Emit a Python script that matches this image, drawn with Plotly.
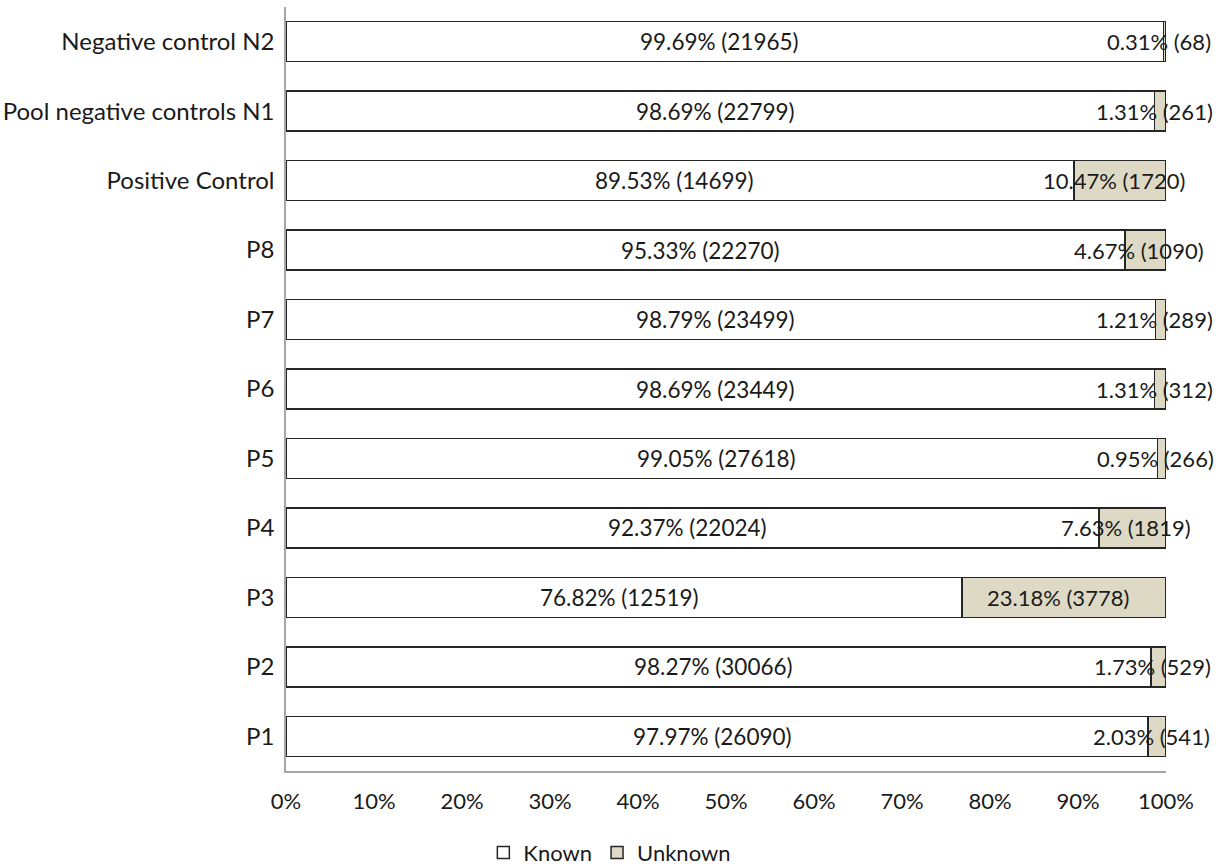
import plotly.graph_objects as go

categories = ["P1", "P2", "P3", "P4", "P5", "P6", "P7", "P8",
              "Positive Control", "Pool negative controls N1", "Negative control N2"]
known_pct = [97.97, 98.27, 76.82, 92.37, 99.05, 98.69, 98.79, 95.33, 89.53, 98.69, 99.69]
known_n = [26090, 30066, 12519, 22024, 27618, 23449, 23499, 22270, 14699, 22799, 21965]
unknown_pct = [2.03, 1.73, 23.18, 7.63, 0.95, 1.31, 1.21, 4.67, 10.47, 1.31, 0.31]
unknown_n = [541, 529, 3778, 1819, 266, 312, 289, 1090, 1720, 261, 68]
x_ticks = [0, 10, 20, 30, 40, 50, 60, 70, 80, 90, 100]

FONT = "Lato"
FS = 22
TXT = "#1a1a1a"
OUT = "#262626"

known_frac = [v / 100 for v in known_pct]
unknown_frac = [v / 100 for v in unknown_pct]

fig = go.Figure()
fig.add_trace(go.Bar(
    y=categories, x=known_frac, orientation="h", name="Known",
    marker=dict(color="white", line=dict(color=OUT, width=1.5)),
    width=0.576, hoverinfo="skip"))
fig.add_trace(go.Bar(
    y=categories, x=unknown_frac, orientation="h", name="Unknown",
    marker=dict(color="#DDD9C4", line=dict(color=OUT, width=1.5)),
    width=0.576, hoverinfo="skip"))

annotations = []
for cat, kf, uf, kp, kn, up, un in zip(categories, known_frac, unknown_frac,
                                       known_pct, known_n, unknown_pct, unknown_n):
    annotations.append(dict(x=kf / 2, y=cat, xref="x", yref="y",
                            text=f"{kp:.2f}% ({kn})", showarrow=False, xshift=-5,
                            font=dict(family=FONT, size=22.5, color=TXT)))
    annotations.append(dict(x=kf + uf / 2, y=cat, xref="x", yref="y",
                            text=f"{up:.2f}% ({un})", showarrow=False, xshift=-6,
                            font=dict(family=FONT, size=FS, color=TXT)))

fig.update_layout(
    width=1216, height=866,
    margin=dict(l=286, r=50, t=7, b=95, autoexpand=False),
    barmode="stack",
    plot_bgcolor="white", paper_bgcolor="white",
    font=dict(family=FONT, size=FS, color=TXT),
    annotations=annotations,
    legend=dict(orientation="h", x=0.368, xanchor="center", y=-0.107, yanchor="middle",
                font=dict(family=FONT, size=FS, color=TXT), traceorder="normal",
                itemwidth=30),
    xaxis=dict(range=[0, 1], tickvals=[t / 100 for t in x_ticks],
               ticktext=[f"{t}%" for t in x_ticks],
               showgrid=False, zeroline=False, showline=True, linecolor="#a6a6a6",
               linewidth=1.5, ticks="outside", ticklen=10, tickcolor="rgba(0,0,0,0)",
               tickfont=dict(size=FS)),
    yaxis=dict(categoryorder="array", categoryarray=categories,
               showgrid=False, zeroline=False, showline=True, linecolor="#a6a6a6",
               linewidth=1.5, ticks="outside", ticklen=5, tickcolor="rgba(0,0,0,0)",
               tickfont=dict(size=24)),
)

fig.write_html("out.html", config={"displayModeBar": False},
               post_script="document.body.style.margin='0';")
